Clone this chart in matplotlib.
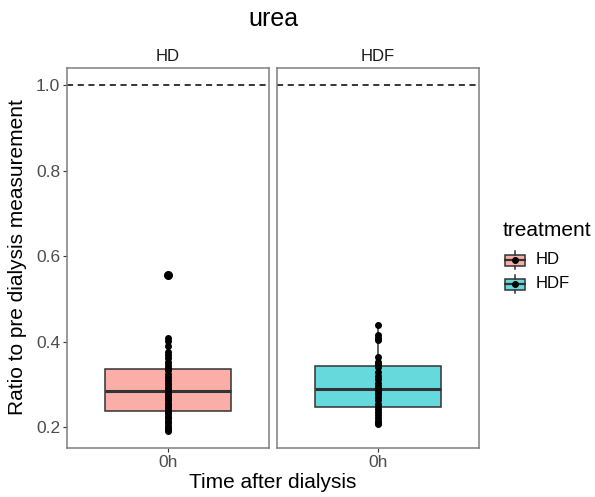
import matplotlib
matplotlib.use("Agg")
import matplotlib.pyplot as plt
import numpy as np
from matplotlib.patches import Rectangle

plt.rcParams['font.family'] = ['Liberation Sans', 'DejaVu Sans']

# data
treatments = ["HD", "HDF"]
time_labels = ["0h"]
hd_ratio = [0.556, 0.410, 0.403, 0.391, 0.375, 0.368, 0.361, 0.353, 0.345, 0.339,
            0.336, 0.333, 0.325, 0.318, 0.311, 0.303, 0.298, 0.293, 0.288, 0.285,
            0.283, 0.279, 0.273, 0.269, 0.263, 0.258, 0.253, 0.248, 0.243, 0.239,
            0.236, 0.231, 0.225, 0.221, 0.215, 0.210, 0.204, 0.199, 0.195, 0.192]
hdf_ratio = [0.207, 0.211, 0.215, 0.221, 0.228, 0.235, 0.243, 0.249, 0.255, 0.263,
             0.271, 0.278, 0.283, 0.288, 0.293, 0.297, 0.303, 0.313, 0.321, 0.329,
             0.341, 0.348, 0.353, 0.365, 0.405, 0.410, 0.415, 0.440]
ref_line = 1.0
fills = ["#FBADA7", "#66D9DC"]
line_col = "#333333"

fig = plt.figure(figsize=(5.95, 4.97), dpi=100)
W, H = 595, 497
panels = [(67, 68, 202, 380), (277, 68, 202, 380)]

allv = np.concatenate([hd_ratio, hdf_ratio, [ref_line]])
lo, hi = allv.min(), allv.max()
pad = (hi - lo) * 0.05

for i, (vals, name, fc) in enumerate(zip([hd_ratio, hdf_ratio], treatments, fills)):
    x0, y0, w, h = panels[i]
    ax = fig.add_axes([x0 / W, 1 - (y0 + h) / H, w / W, h / H])
    ax.set_xlim(0.4, 1.6)
    ax.set_ylim(lo - pad, hi + pad)
    ax.boxplot([vals], positions=[1], widths=0.75, patch_artist=True,
               whis=1.5, showcaps=False,
               boxprops=dict(facecolor=fc, edgecolor=line_col, linewidth=1.1),
               medianprops=dict(color=line_col, linewidth=2.2),
               whiskerprops=dict(color=line_col, linewidth=1.1),
               flierprops=dict(marker="o", markersize=5.5, markerfacecolor="black",
                               markeredgecolor="black"))
    ax.scatter(np.ones(len(vals)), vals, s=16, color="black", zorder=5)
    ax.axhline(ref_line, color="black", linestyle=(0, (4, 3)), linewidth=1.1)
    for sp in ax.spines.values():
        sp.set_color("#7f7f7f")
        sp.set_linewidth(1.1)
    ax.set_xticks([1])
    ax.set_xticklabels(time_labels, fontsize=12.5, color="#4d4d4d")
    ax.tick_params(length=3, color=line_col, width=0.8, pad=2)
    ax.set_yticks([0.2, 0.4, 0.6, 0.8, 1.0])
    if i == 0:
        ax.set_yticklabels(["0.2", "0.4", "0.6", "0.8", "1.0"], fontsize=12.5, color="#4d4d4d")
    else:
        ax.tick_params(axis="y", left=False, labelleft=False)
    ax.set_title(name, fontsize=12, color="#1a1a1a", pad=5)

fig.text(273 / W, 1 - 19 / H, "urea", fontsize=18, ha="center", va="center")
fig.text(273 / W, 1 - 483 / H, "Time after dialysis", fontsize=15, ha="center", va="center")
fig.text(18 / W, 1 - 257 / H, "Ratio to pre dialysis measurement", fontsize=15,
         ha="center", va="center", rotation=90)

# legend drawn by hand, ggplot style boxplot keys
fig.text(503 / W, 1 - 231 / H, "treatment", fontsize=15, ha="left", va="center")
for j, (name, fc) in enumerate(zip(treatments, fills)):
    yc = 260 + j * 24
    kax = fig.add_axes([504 / W, 1 - (yc + 11) / H, 22 / W, 22 / H])
    kax.set_xlim(0, 1)
    kax.set_ylim(0, 1)
    kax.axis("off")
    kax.plot([0.5, 0.5], [0.1, 0.25], color=line_col, lw=1.1)
    kax.plot([0.5, 0.5], [0.75, 0.9], color=line_col, lw=1.1)
    kax.add_patch(Rectangle((0.06, 0.25), 0.88, 0.5, facecolor=fc,
                            edgecolor=line_col, lw=1.1))
    kax.plot([0.06, 0.94], [0.5, 0.5], color=line_col, lw=1.6)
    kax.plot([0.5], [0.5], "o", color="black", markersize=4)
    fig.text(536 / W, 1 - yc / H, name, fontsize=12, ha="left", va="center")

fig.savefig("out.png", dpi=100)
